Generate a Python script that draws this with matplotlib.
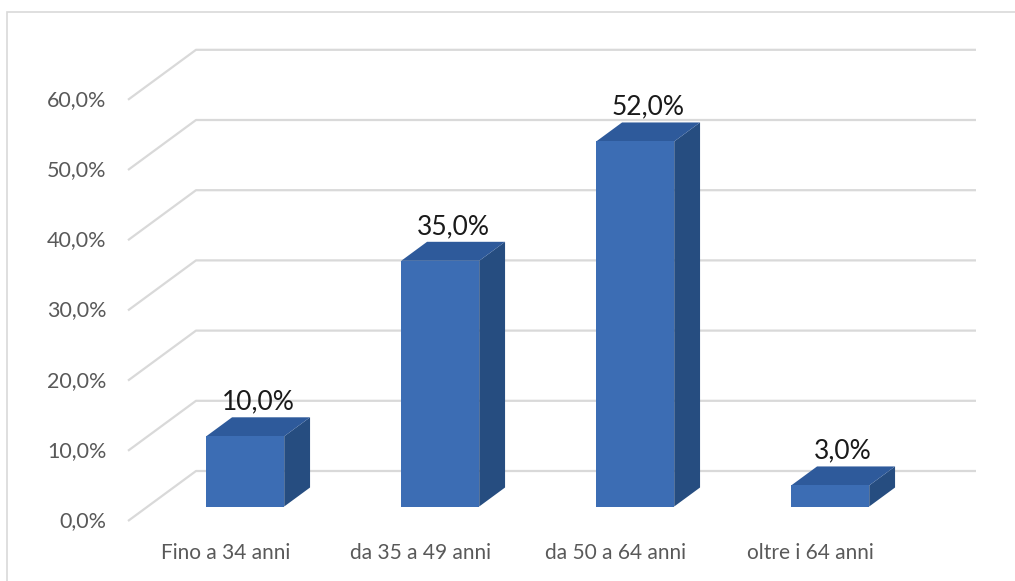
import matplotlib.pyplot as plt
from matplotlib.patches import Polygon, Rectangle

# Data
categories = ["Fino a 34 anni", "da 35 a 49 anni", "da 50 a 64 anni", "oltre i 64 anni"]
values = [10.0, 35.0, 52.0, 3.0]
y_ticks = [0, 10, 20, 30, 40, 50, 60]

# pixel geometry of the reference (1015x581)
W, H = 1015, 581
x0_px, cat_px = 128, 195          # front-left corner of floor, width of one category
y0_px, ten_px = 521, 70.2         # 0% front, pixels per 10%

# oblique depth (full depth of the plot box) in data units
DX = 68 / cat_px
DY = 50 / (ten_px / 10)
f1, f2 = 0.29, 0.67               # bar front / back depth fraction
bar_w = 0.40

font = ["Lato", "DejaVu Sans"]
plt.rcParams["font.family"] = font

fig = plt.figure(figsize=(W / 100, H / 100), dpi=100)
ax = fig.add_axes([0, 0, 1, 1])
ax.set_xlim(-x0_px / cat_px, (W - x0_px) / cat_px)
ax.set_ylim((y0_px - H) / (ten_px / 10), y0_px / (ten_px / 10))
ax.axis("off")

grid_c = "#D9D9D9"
n = len(categories)

# gridlines: diagonal side wall + back wall
for v in y_ticks:
    ax.plot([0, DX, n + DX], [v, v + DY, v + DY], color=grid_c, linewidth=1.6,
            solid_capstyle="butt", zorder=1)
    ax.text(-0.11, v, f"{v:.1f}%".replace(".", ","), ha="right", va="center",
            fontsize=15.5, color="#595959")

front_c = "#3C6DB4"
top_c = "#2E5A9B"
side_c = "#264D80"

for i, (cat, v) in enumerate(zip(categories, values)):
    xc = i + 0.5
    xl = xc - bar_w / 2 + f1 * DX
    xr = xc + bar_w / 2 + f1 * DX
    yb = f1 * DY
    yt = v + f1 * DY
    ddx = (f2 - f1) * DX
    ddy = (f2 - f1) * DY
    # right side
    ax.add_patch(Polygon([(xr, yb), (xr + ddx, yb + ddy), (xr + ddx, yt + ddy), (xr, yt)],
                         closed=True, facecolor=side_c, edgecolor="none", zorder=3))
    # top
    ax.add_patch(Polygon([(xl, yt), (xr, yt), (xr + ddx, yt + ddy), (xl + ddx, yt + ddy)],
                         closed=True, facecolor=top_c, edgecolor="none", zorder=3))
    # front
    ax.add_patch(Polygon([(xl, yb), (xr, yb), (xr, yt), (xl, yt)],
                         closed=True, facecolor=front_c, edgecolor="none", zorder=4))

    # data label
    ax.annotate(f"{v:.1f}%".replace(".", ","), xy=(xc + (f1 + f2) / 2 * DX, yt + ddy),
                xytext=(0, 11), textcoords="offset points", ha="center", va="center",
                fontsize=19, color="#1a1a1a", zorder=5)

    # category label
    ax.text(xc, -4.6, cat, ha="center", va="center", fontsize=15, color="#595959")

# chart border
fig.add_artist(Rectangle((7 / W, -0.1), 1.2, 1.1 - 12 / H, transform=fig.transFigure,
                         fill=False, edgecolor=grid_c, linewidth=1.2))

fig.savefig("out.png", dpi=100)
